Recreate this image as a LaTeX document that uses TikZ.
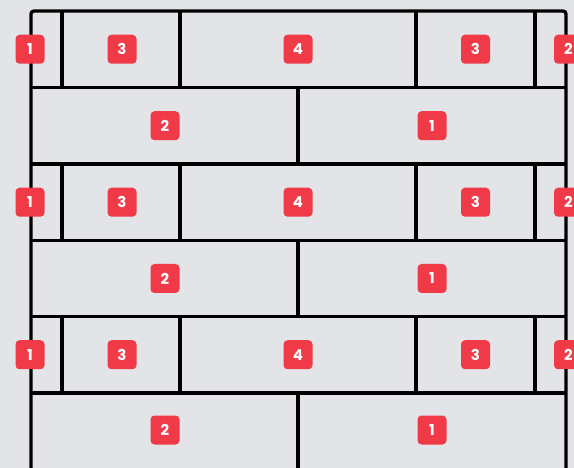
\documentclass[tikz,border=0pt]{standalone}
\usepackage{fontspec}
\setmainfont{Poppins}
\definecolor{wallbg}{HTML}{E3E4E8}
\definecolor{tagred}{HTML}{F03A47}
\tikzset{
 tag/.style={fill=tagred,text=white,rounded corners=4pt,minimum size=29pt,inner sep=0pt,font=\bfseries\fontsize{15}{15}\selectfont},
 joint/.style={line width=3.3pt,black}
}
\begin{document}
\begin{tikzpicture}[x=1pt,y=-1pt]
 \fill[wallbg] (0,0) rectangle (574,468);
 \useasboundingbox (0,0) rectangle (574,468);
 % outer frame
 \draw[joint,rounded corners=3pt] (31,468)--(31,11)--(566,11)--(566,468);
 % bed joints
 \foreach \y in {87.5,164,240.5,316.5,393} \draw[joint] (31,\y)--(566,\y);
 % head joints
 \foreach \t/\b in {11/87.5,164/240.5,316.5/393}
  \foreach \x in {62,180,416,535} \draw[joint] (\x,\t)--(\x,\b);
 \foreach \t/\b in {87.5/164,240.5/316.5,393/468}
  \draw[joint] (298,\t)--(298,\b);
 % tags, long courses
 \foreach \r/\y in {a/49.25,c/202.25,e/354.75}{
  \node[tag] (\r-one) at (30,\y) {1};
  \node[tag] (\r-three) at (122,\y) {3};
  \node[tag] (\r-four) at (298,\y) {4};
  \node[tag] (\r-threeb) at (475.5,\y) {3};
  \node[tag] (\r-two) at (568.5,\y) {2};
 }
 % tags, short courses
 \foreach \r/\y in {b/125.75,d/278.5,f/430}{
  \node[tag] (\r-two) at (165,\y) {2};
  \node[tag] (\r-one) at (432,\y) {1};
 }
\end{tikzpicture}
\end{document}
